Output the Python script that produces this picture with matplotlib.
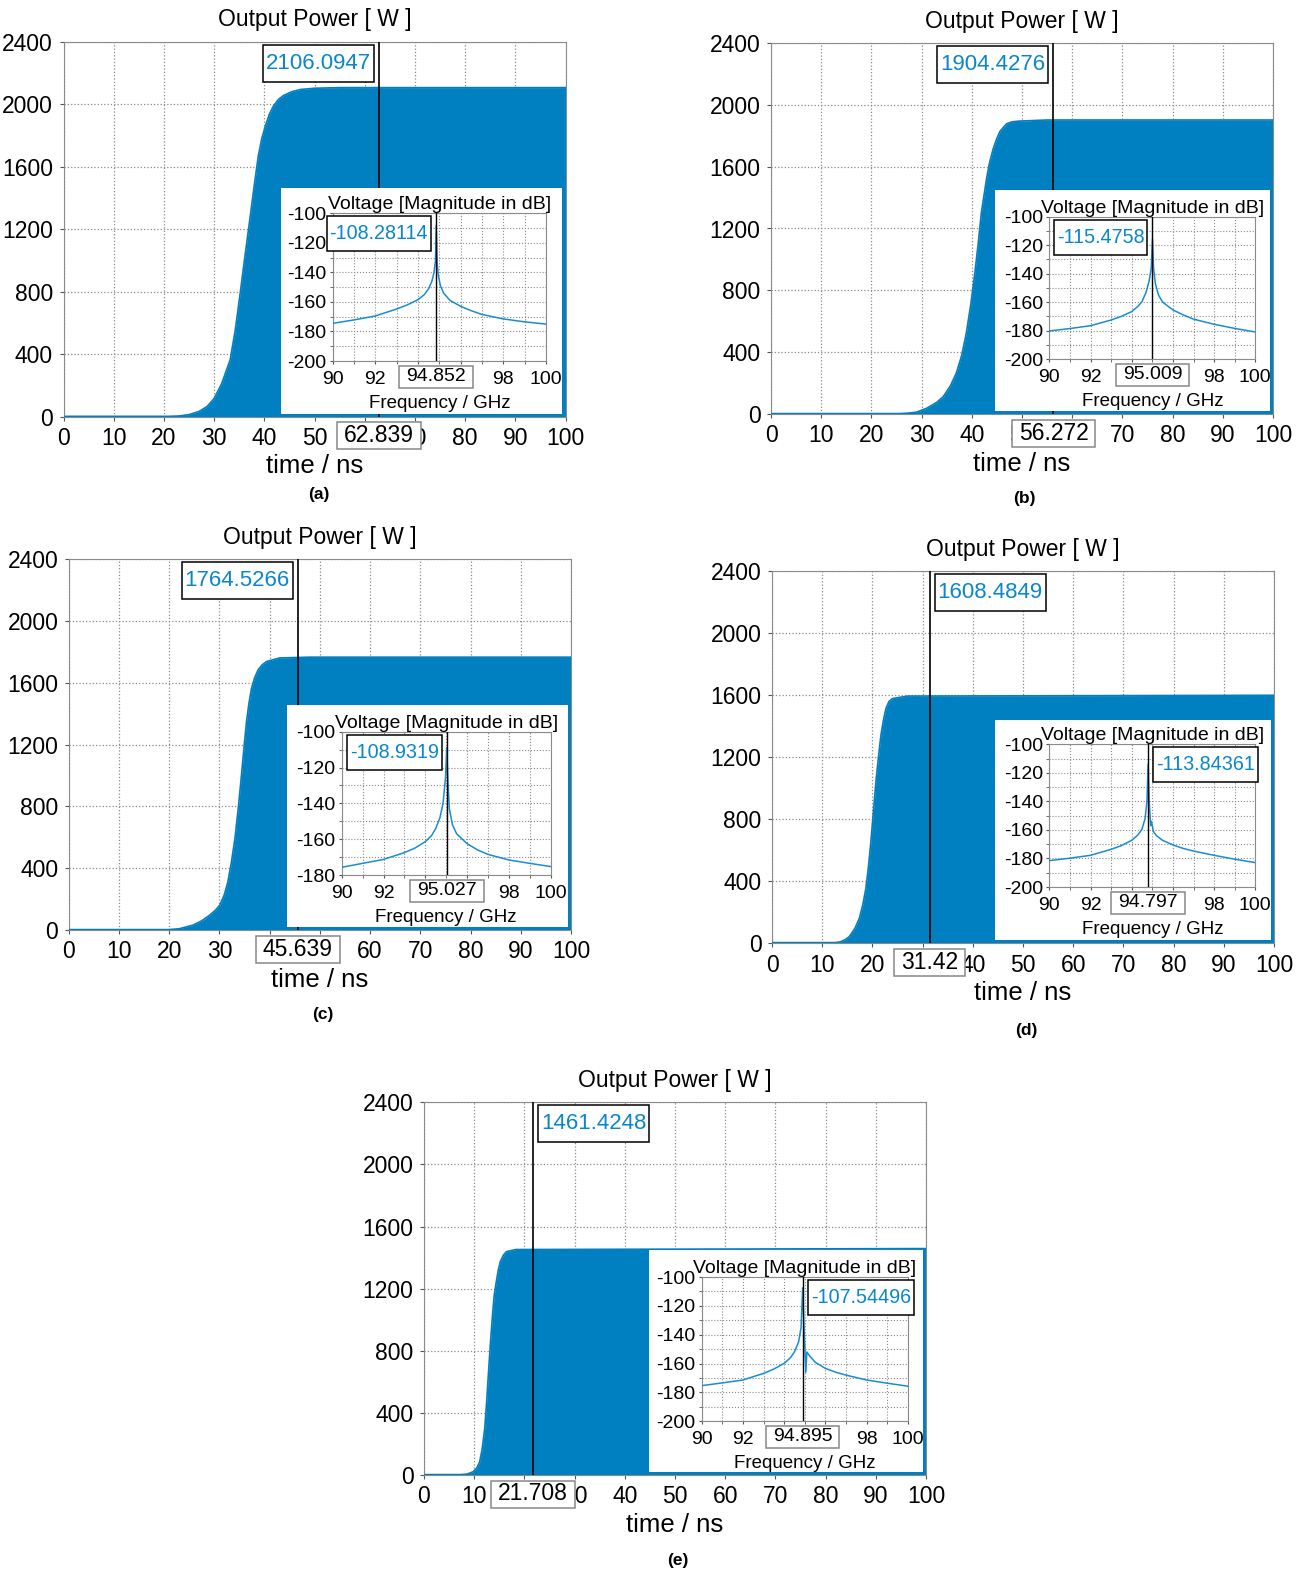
import numpy as np
import matplotlib.pyplot as plt
from matplotlib.ticker import MultipleLocator
from matplotlib.patches import Rectangle
from matplotlib.transforms import IdentityTransform

plt.rcParams['font.family'] = ['Liberation Sans', 'DejaVu Sans']
plt.rcParams['axes.unicode_minus'] = False

W, H = 1310, 1571
BLUE = '#0080c0'
LINE = '#1a8cd2'
TXT = '#0a86cc'

# output power envelopes, time in ns, power in W
t_a = [0, 21, 23, 25, 27, 28.6, 30, 31.5, 33.2, 34.2, 35.2, 36.2, 37.2, 38, 38.8, 39.5, 40.2, 41,
       41.8, 42.8, 43.8, 45.5, 47.2, 50, 55, 100]
p_a = [0, 0, 3, 12, 32, 64, 115, 210, 363, 550, 790, 1040, 1282, 1480, 1667, 1780, 1859, 1935,
       1987, 2030, 2055, 2080, 2094, 2102, 2106, 2106]
t_b = [0, 25, 27, 29, 31, 33, 34.3, 35.7, 36.9, 38, 38.9, 39.8, 40.6, 41.3, 41.9, 42.9, 43.5, 44.2,
       44.9, 45.6, 46.9, 48, 49.5, 55, 100]
p_b = [0, 0, 4, 12, 37, 75, 112, 180, 263, 380, 522, 710, 911, 1110, 1300, 1515, 1620, 1709,
       1775, 1828, 1877, 1890, 1895, 1902, 1902]
t_c = [0, 19.5, 22, 24.8, 26.5, 28.1, 29.2, 30.1, 31, 31.7, 32.4, 33.1, 33.8, 34.4, 34.9, 35.4,
       35.9, 36.4, 37, 37.7, 38.5, 39.4, 42, 48, 100]
p_c = [0, 0, 8, 32, 60, 97, 128, 162, 230, 313, 440, 593, 800, 1003, 1180, 1348,
       1470, 1564, 1630, 1683, 1715, 1737, 1760, 1765, 1765]
t_d = [0, 12, 13.5, 14.5, 15.4, 16.5, 17.4, 18.1, 18.7, 19.2, 19.7, 20.2, 20.7, 21.2, 21.7, 22.2,
       22.7, 23.3, 24, 27, 100]
p_d = [0, 0, 8, 22, 43, 95, 161, 250, 355, 490, 656, 850, 1042, 1200, 1343, 1440,
       1515, 1560, 1579, 1595, 1600]
t_e = [0, 7, 8.5, 9.8, 10.5, 11.1, 11.6, 12.1, 12.5, 12.9, 13.3, 13.7, 14, 14.4, 14.8, 15.2, 15.8,
       16.4, 18.3, 100]
p_e = [0, 0, 5, 21, 45, 86, 170, 300, 480, 687, 880, 1052, 1160, 1245, 1320, 1374, 1415,
       1438, 1452, 1458]

# voltage spectra, GHz and dB
f_a = [90, 91, 92, 93, 93.5, 94, 94.3, 94.5, 94.65, 94.75, 94.82, 94.852, 94.9, 94.95, 95.05, 95.2,
       95.5, 96, 96.5, 97, 98, 99, 100]
v_a = [-174.5, -172.2, -169.5, -164.8, -162, -158.5, -155, -151, -146, -140, -132, -108.3, -134, -142,
       -149, -154, -159, -163, -166, -168.5, -171.5, -173.5, -175]
f_b = [90, 91, 92, 93, 93.5, 94, 94.3, 94.5, 94.7, 94.85, 94.95, 95.009, 95.06, 95.15, 95.3, 95.5,
       96, 96.5, 97, 98, 99, 100]
v_b = [-180.3, -178.6, -176.6, -172.6, -170, -166.7, -163, -159.7, -153, -145, -136, -115.5, -136, -147,
       -155, -160, -165.5, -169, -172, -175.6, -178.5, -181]
f_c = [90, 91, 92, 93, 93.5, 94, 94.3, 94.5, 94.7, 94.85, 94.97, 95.027, 95.08, 95.15, 95.3, 95.5,
       96, 96.5, 97, 98, 99, 100]
v_c = [-175.7, -173.5, -171.3, -167.5, -165, -161.4, -158, -154, -148, -140, -125, -108.9, -127, -143,
       -152, -157, -162.5, -166, -168.5, -171.6, -173.5, -175.3]
f_d = [90, 91, 92, 93, 93.5, 94, 94.3, 94.5, 94.65, 94.74, 94.797, 94.85, 94.92, 94.96, 95.05, 95.2,
       95.5, 96, 96.5, 97, 98, 99, 100]
v_d = [-181.5, -179.8, -177.8, -173.6, -171, -167.3, -163.5, -159.5, -152, -140, -113.8, -140, -157, -154,
       -161, -164, -167.3, -170.5, -173, -174.8, -177.8, -180.5, -182.9]
f_e = [90, 91, 92, 93, 93.5, 94, 94.3, 94.5, 94.7, 94.82, 94.895, 94.95, 95.0, 95.05, 95.1, 95.25,
       95.5, 96, 96.5, 97, 98, 99, 100]
v_e = [-175.3, -173.4, -171.4, -166.8, -163.8, -159.8, -156, -151.9, -145, -135, -107.5, -130, -148, -166,
       -152, -155, -159, -163.4, -166, -168, -171.4, -173.6, -175.7]

# cursor readings
t_cur = [62.839, 56.272, 45.639, 31.42, 21.708]
p_cur = ['2106.0947', '1904.4276', '1764.5266', '1608.4849', '1461.4248']
f_cur = [94.852, 95.009, 95.027, 94.797, 94.895]
v_cur = ['-108.28114', '-115.4758', '-108.9319', '-113.84361', '-107.54496']
db_low = [-200, -200, -180, -200, -200]
captions = ['(a)', '(b)', '(c)', '(d)', '(e)']

times = [t_a, t_b, t_c, t_d, t_e]
powers = [p_a, p_b, p_c, p_d, p_e]
freqs = [f_a, f_b, f_c, f_d, f_e]
volts = [v_a, v_b, v_c, v_d, v_e]

# layout in pixels (left, top, right, bottom)
main_px = [(63.5, 41.7, 565.5, 416.5), (771, 43, 1273, 414), (68.7, 559, 571, 930),
           (772, 571.3, 1274, 943.3), (424, 1102.3, 926, 1475)]
box_px = [(280.6, 188.4, 562, 413.5), (995, 190.4, 1270, 411), (287, 705, 568, 927),
          (995, 719.6, 1271, 940.5), (648.5, 1250, 923, 1472)]
ins_px = [(332.7, 213.3, 546, 361), (1049.3, 216.7, 1255.3, 359), (341.7, 731.7, 550.7, 875),
          (1049.3, 744.3, 1255.3, 887), (701.6, 1277, 908, 1421.3)]
cap_px = [(319, 495), (1024, 498), (323, 1014), (1026, 1030), (678, 1560)]
right_side = [False, False, False, True, True]
ins_right = [False, False, False, True, True]


def rect(l, t, r, b):
    return [l / W, 1 - b / H, (r - l) / W, (b - t) / H]


fig = plt.figure(figsize=(W / 100, H / 100), dpi=100)
renderer = fig.canvas.get_renderer()


def boxed(ax, label, x, y, right, gap, padx, pady, ec, **kw):
    # text with a frame whose padding differs in x and y (pixels)
    if right is None:
        dx, ha = 0, 'center'
    elif right:
        dx, ha = (gap + padx) * 0.72, 'left'
    else:
        dx, ha = -(gap + padx) * 0.72, 'right'
    dy = -(3 + pady) * 0.72 if y == 1 else -(gap + pady) * 0.72
    txt = ax.annotate(label, xy=(x, y), xycoords=('data', 'axes fraction'), xytext=(dx, dy),
                      textcoords='offset points', ha=ha, va='top', zorder=11,
                      annotation_clip=False, **kw)
    bb = txt.get_window_extent(renderer)
    r = Rectangle((bb.x0 - padx, bb.y0 - pady), bb.width + 2 * padx, bb.height + 2 * pady,
                  transform=IdentityTransform(), fc='white', ec=ec, lw=1.1, zorder=10,
                  clip_on=False)
    ax.add_patch(r)


for i in range(5):
    ax = fig.add_axes(rect(*main_px[i]))
    ax.set_xlim(0, 100)
    ax.set_ylim(0, 2400)
    ax.fill_between(times[i], powers[i], 0, color=BLUE, lw=0, zorder=2)
    ax.plot(times[i], powers[i], color=BLUE, lw=1.2, zorder=2)
    ax.axhline(0, color=BLUE, lw=2.5, zorder=3)
    ax.set_xticks(range(0, 101, 10))
    ax.set_yticks(range(0, 2401, 400))
    ax.set_axisbelow(True)
    ax.grid(True, ls=':', color='#8a8a8a', lw=0.9)
    for s in ax.spines.values():
        s.set_color('#8a8a8a')
    ax.tick_params(length=3, color='#555555', labelsize=16.5, pad=4.5)
    ax.set_xlabel('time / ns', fontsize=18.5, labelpad=3)
    ax.set_title('Output Power [ W ]', fontsize=16.5, pad=11)
    ax.axvline(t_cur[i], color='k', lw=1.2, zorder=4)
    boxed(ax, p_cur[i], t_cur[i], 1, right_side[i], 5, 3, 8, 'k', color=TXT, fontsize=16)
    boxed(ax, f'{t_cur[i]}', t_cur[i], 0, None, 5.5, 7, 2, '#888888', color='k', fontsize=16.5)

    bg = fig.add_axes(rect(*box_px[i]))
    bg.set_facecolor('white')
    bg.set_xticks([])
    bg.set_yticks([])
    for s in bg.spines.values():
        s.set_visible(False)

    ins = fig.add_axes(rect(*ins_px[i]))
    ins.set_xlim(90, 100)
    ins.set_ylim(db_low[i], -100)
    ins.plot(freqs[i], volts[i], color=LINE, lw=1.1, zorder=3)
    ins.set_xticks([90, 92, 94, 96, 98, 100])
    ins.set_yticks(range(db_low[i], -99, 20))
    ins.xaxis.set_minor_locator(MultipleLocator(1))
    ins.yaxis.set_minor_locator(MultipleLocator(10))
    ins.set_axisbelow(True)
    ins.grid(True, which='both', ls=':', color='#8a8a8a', lw=0.8)
    for s in ins.spines.values():
        s.set_color('#8a8a8a')
    ins.tick_params(which='both', length=2.5, color='#555555', labelsize=14)
    ins.tick_params(axis='x', pad=4.5)
    ins.tick_params(axis='y', pad=2)
    ins.set_title('Voltage [Magnitude in dB]', fontsize=14, pad=2)
    ins.set_xlabel('Frequency / GHz', fontsize=13.5, labelpad=5)
    ins.axvline(f_cur[i], color='k', lw=1, zorder=4)
    boxed(ins, v_cur[i], f_cur[i], 1, ins_right[i], 5, 3, 8, 'k', color=TXT, fontsize=14.2)
    boxed(ins, f'{f_cur[i]}', f_cur[i], 0, None, 4.5, 7, 2.5, '#888888', color='k', fontsize=14)

    fig.text(cap_px[i][0] / W, 1 - cap_px[i][1] / H, captions[i], ha='center', va='center',
             fontsize=12.5, fontweight='bold')

fig.savefig('out.png', dpi=100)
